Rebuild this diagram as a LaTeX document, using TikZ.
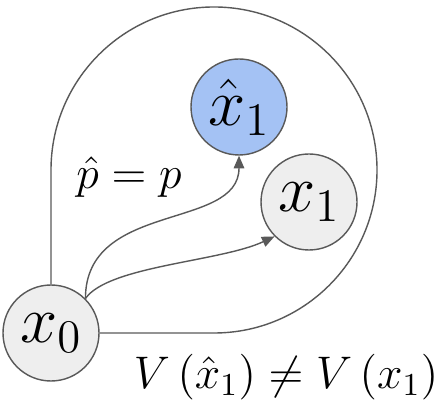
\RequirePackage{fix-cm}
\documentclass[tikz,border=0pt]{standalone}
\usepackage{amsmath}
\usetikzlibrary{arrows.meta, positioning, calc}
\definecolor{edgegray}{HTML}{595959}
\definecolor{stategray}{HTML}{EEEEEE}
\definecolor{stateblue}{HTML}{A4C2F4}
\tikzset{
  state/.style = {draw=edgegray, circle, fill=stategray, line width=0.4pt,
                  minimum size=0.96cm, inner sep=0pt,
                  font=\fontsize{19}{22}\selectfont},
  arr/.style   = {-{Triangle[length=3.6pt, width=3pt]}, draw=edgegray,
                  line width=0.4pt},
  loop/.style  = {draw=edgegray, line width=0.4pt},
  lbl/.style   = {font=\fontsize{13}{16}\selectfont}
}
\begin{document}
\begin{tikzpicture}
  \useasboundingbox (0,0) rectangle (4.37,4.05);

  % ── States ────────────────────────────────────────────────────────────────
  \node[state]                 (X0)   at (0.51,0.72) {$x_0$};
  \node[state, fill=stateblue] (Xh1)  at (2.39,2.98) {$\hat{x}_1$};
  \node[state]                 (X1)   at (3.09,2.03) {$x_1$};

  % ── Transitions ───────────────────────────────────────────────────────────
  \draw[arr] (X0.45) .. controls +(90:0.98) and +(-90:0.75) .. (Xh1.south);
  \draw[arr] (X0.45) .. controls +(55:0.40) and +(205:0.60) .. (X1.225);

  % ── Outer loop round both successors ──────────────────────────────────────
  \coordinate (LoopC) at (2.14,2.35);
  \coordinate (LoopW) at ($(LoopC)+(-1.63,0)$);
  \draw[loop] (X0.north) -- (LoopW)
              arc[start angle=180, end angle=-90, radius=1.63]
              -- (X0.east);

  % ── Labels ────────────────────────────────────────────────────────────────
  \node[lbl] (Peq) at (1.29,2.28) {$\hat{p} = p$};
  \node[lbl] (Vneq) at (2.86,0.28)
        {$V\left(\hat{x}_1\right) \neq V\left(x_1\right)$};

\end{tikzpicture}
\end{document}
